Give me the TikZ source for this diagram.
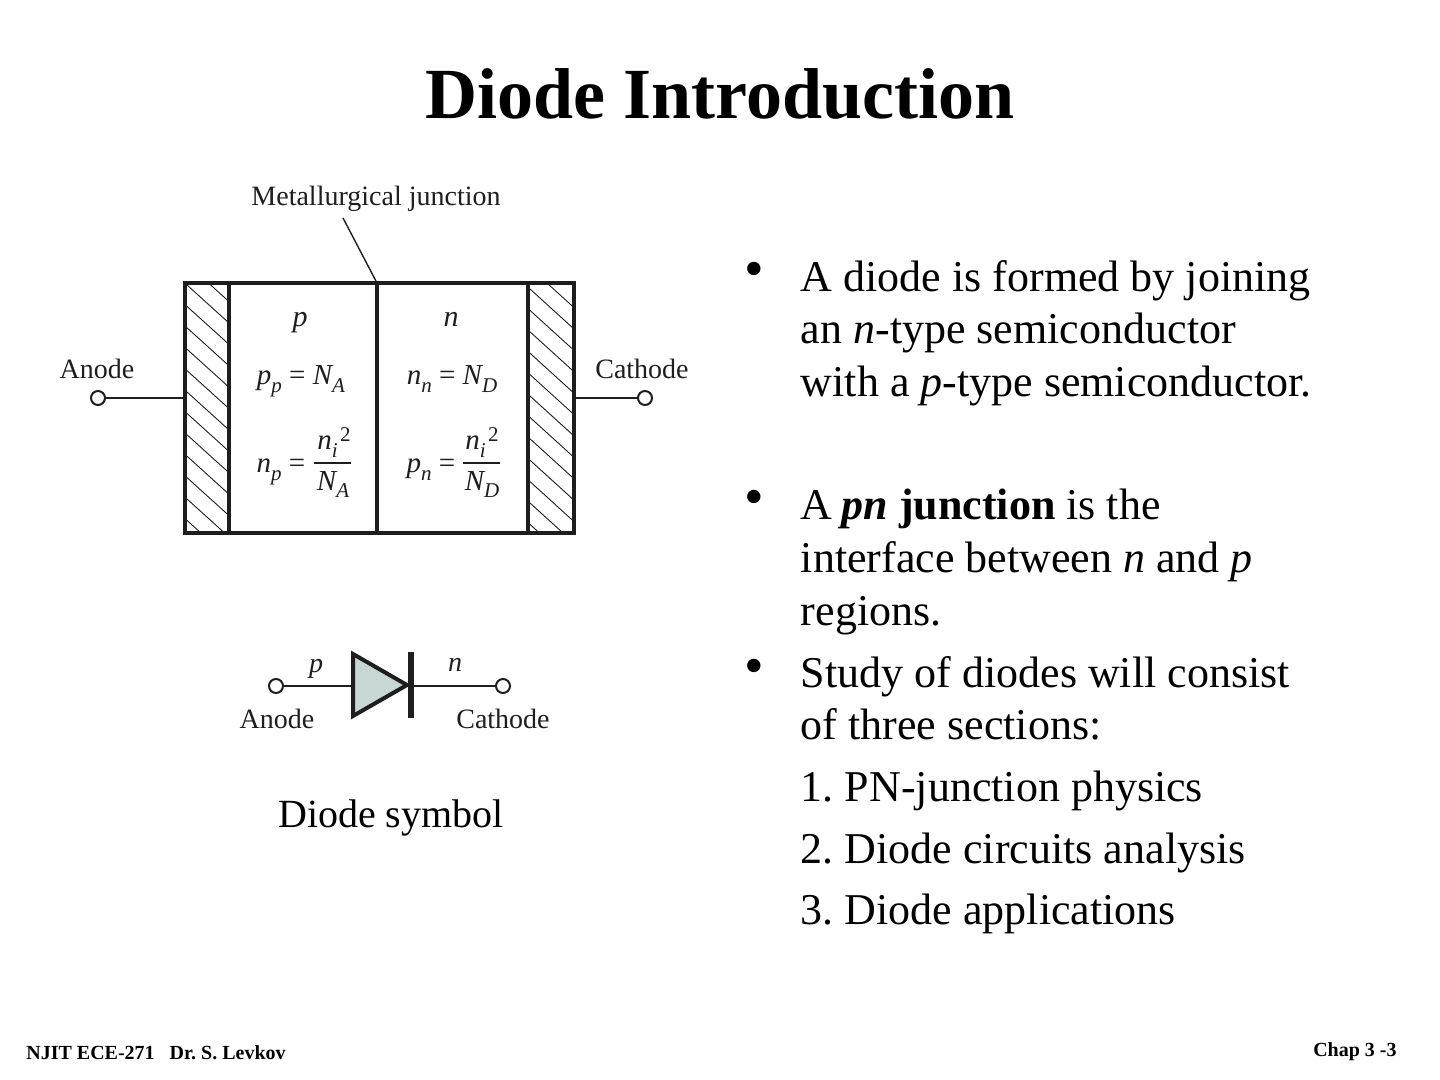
\documentclass[tikz,border=0pt]{standalone}
\usepackage{fontspec}
\setmainfont{Liberation Serif}
\frenchspacing
\newcommand{\dnsub}[1]{\raisebox{-0.6ex}{\fontsize{10.5}{10.5}\selectfont\textit{#1}}}
\newcommand{\subsup}[2]{\rlap{\raisebox{-0.6ex}{\fontsize{10.5}{10.5}\selectfont\textit{#1}}}\kern0.28em\raisebox{0.62ex}{\fontsize{10.5}{10.5}\selectfont\upshape #2}}
\definecolor{ink}{HTML}{1E1E1E}
\definecolor{diodefill}{HTML}{C9D6D6}
\tikzset{
  title/.style={anchor=base,font=\bfseries\fontsize{36}{36}\selectfont},
  body/.style={anchor=base west,inner sep=0pt,font=\fontsize{22}{22}\selectfont},
  bul/.style={anchor=base,inner sep=0pt,font=\fontsize{28}{28}\selectfont},
  foot/.style={anchor=base,inner sep=0pt,font=\bfseries\fontsize{10}{10}\selectfont},
  lab/.style={anchor=base,inner sep=0pt,text=ink,font=\fontsize{14}{14}\selectfont},
  eq/.style={anchor=base,inner sep=0pt,text=ink,font=\itshape\fontsize{14.5}{14.5}\selectfont},
  term/.style={circle,draw=ink,line width=1pt,fill=white,minimum size=7pt,inner sep=0pt},
  wire/.style={draw=ink,line width=0.7pt},
  thick box/.style={draw=ink,line width=1.6pt},
  hatch/.style={draw=ink,line width=0.45pt},
}
\begin{document}
\begin{tikzpicture}[x=0.5pt,y=-0.5pt]
\useasboundingbox (0,0) rectangle (1440,1080);
\node[title] (ttl) at (720,119) {Diode Introduction};
% hatching
\begin{scope}
\clip (185,283) rectangle (229,533);
\foreach \k in {-2,...,12} \draw[hatch] (187,285+21.4*\k) -- (229,323+21.4*\k);
\end{scope}
\begin{scope}
\clip (528,283) rectangle (574,533);
\foreach \k in {-2,...,12} \draw[hatch] (530,289+21.4*\k) -- (574,329+21.4*\k);
\end{scope}
% box
\coordinate (boxtl) at (185,283);
\coordinate (boxbr) at (574,533);
\draw[thick box] (boxtl) rectangle (boxbr);
\coordinate (d1t) at (229,283); \coordinate (d1b) at (229,533);
\coordinate (d2t) at (377,283); \coordinate (d2b) at (377,533);
\coordinate (d3t) at (528,283); \coordinate (d3b) at (528,533);
\draw[thick box] (d1t) -- (d1b);
\draw[thick box] (d2t) -- (d2b);
\draw[thick box] (d3t) -- (d3b);
% leader
\node[lab] (mj) at (376,206) {Metallurgical junction};
\coordinate (mjs) at (343,218);
\draw[wire] (mjs) -- (d2t);
% terminals
\node[term] (ta) at (98,398) {};
\node[term] (tc) at (645,398) {};
\coordinate (wa) at (185,398); \coordinate (wc) at (574,398);
\draw[wire] (ta) -- (wa);
\draw[wire] (tc) -- (wc);
\node[lab] (la) at (97,379) {Anode};
\node[lab] (lc) at (642,379) {Cathode};
% equations
\node[eq,font=\itshape\fontsize{15}{15}\selectfont] (p) at (300,327) {p};
\node[eq,font=\itshape\fontsize{15}{15}\selectfont] (n) at (451,327) {n};
\node[eq] (e1) at (301,385) {p\dnsub{p} {\upshape=} N\dnsub{A}};
\node[eq] (e2) at (452,385) {n\dnsub{n} {\upshape=} N\dnsub{D}};
\node[eq] (e3) at (281,473) {n\dnsub{p} {\upshape=}};
\node[eq] (e4) at (431,473) {p\dnsub{n} {\upshape=}};
\node[eq] (f1) at (334,450) {n\subsup{i}{2}};
\node[eq] (f2) at (333,490) {N\dnsub{A}};
\node[eq] (f3) at (482,450) {n\subsup{i}{2}};
\node[eq] (f4) at (482,490) {N\dnsub{D}};
\coordinate (r1a) at (314,463); \coordinate (r1b) at (351,463);
\coordinate (r2a) at (463,463); \coordinate (r2b) at (500,463);
\draw[wire] (r1a) -- (r1b);
\draw[wire] (r2a) -- (r2b);
% diode symbol
\node[term] (sa) at (276,686) {};
\node[term] (sc) at (503,686) {};
\coordinate (tl) at (353,654); \coordinate (bl) at (353,716); \coordinate (tip) at (407,685);
\coordinate (bart) at (411,652); \coordinate (barb) at (411,718);
\coordinate (wl) at (353,686); \coordinate (wr) at (411,686);
\draw[wire] (sa) -- (wl);
\draw[wire] (wr) -- (sc);
\draw[draw=ink,fill=diodefill,line width=2pt,miter limit=10] (tl) -- (bl) -- (tip) -- cycle;
\draw[draw=ink,line width=2.8pt] (bart) -- (barb);
\node[eq,font=\itshape\fontsize{14}{14}\selectfont] (sp) at (316,672) {p};
\node[eq,font=\itshape\fontsize{14}{14}\selectfont] (sn) at (455,671) {n};
\node[lab] (sla) at (277,728) {Anode};
\node[lab] (slc) at (503,728) {Cathode};
\node[anchor=base,inner sep=0pt,font=\fontsize{20}{20}\selectfont] (cap) at (391,827) {Diode symbol};
% bullets
\node[bul] (b1) at (754,288) {•};
\node[bul] (b2) at (754,516) {•};
\node[bul] (b3) at (754,684) {•};
\node[body] (t1) at (800.5,292) {A diode is formed by joining};
\node[body] (t2) at (800.5,344) {an \textit{n}-type semiconductor};
\node[body] (t3) at (800.5,397) {with a \textit{p}-type semiconductor.};
\node[body] (t4) at (800.5,519) {A\kern-1pt\ \textbf{\textit{pn}} \textbf{junction} is the};
\node[body] (t5) at (800.5,572) {interface between \textit{n} and \textit{p}};
\node[body] (t6) at (800.5,625) {regions.};
\node[body] (t7) at (800.5,687) {Study of diodes will consist};
\node[body] (t8) at (800.5,739) {of three sections:};
\node[body] (t9) at (800.5,801) {1. PN-junction physics};
\node[body] (t10) at (800.5,863) {2. Diode circuits analysis};
\node[body] (t11) at (800.5,924) {3. Diode applications};
% footer
\node[foot,anchor=base west] (fl) at (26,1059) {NJIT ECE-271\ \ \ Dr. S. Levkov};
\node[foot,anchor=base east] (fr) at (1397,1056) {Chap 3 -3};
\end{tikzpicture}
\end{document}
